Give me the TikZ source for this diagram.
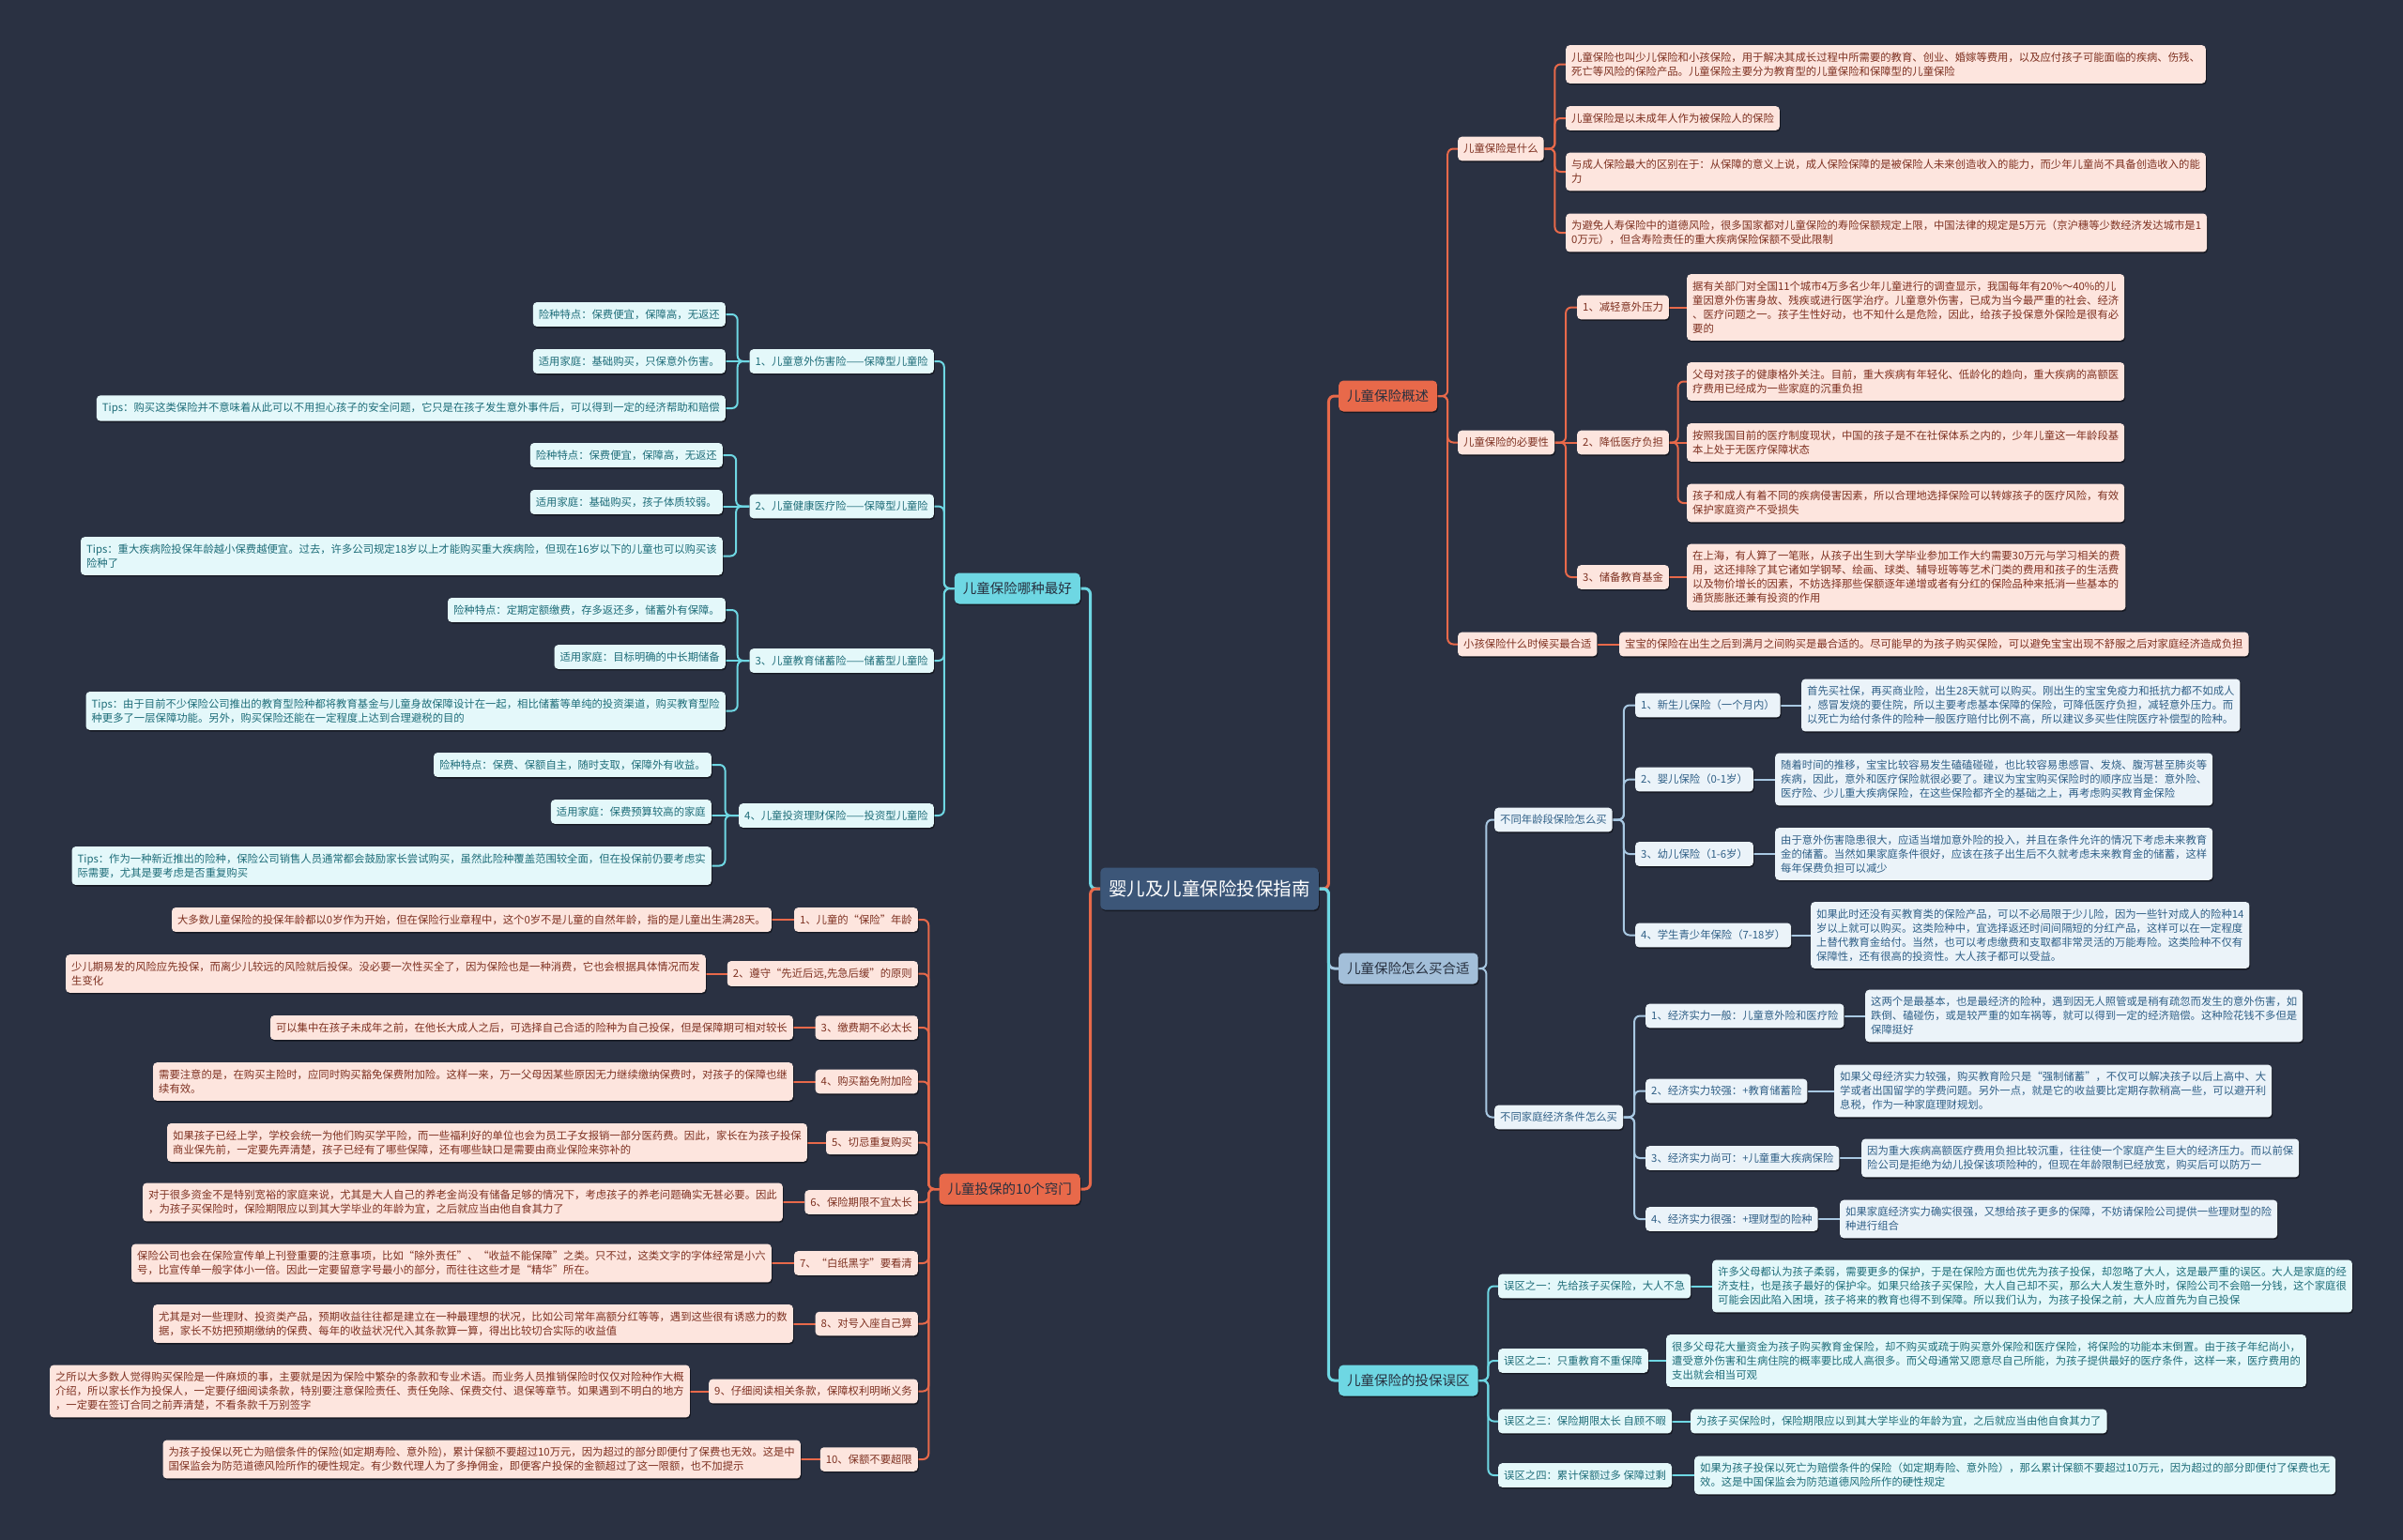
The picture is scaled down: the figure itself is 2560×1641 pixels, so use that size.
\documentclass[tikz,border=0pt]{standalone}
\usepackage{fontspec}
\setmainfont{Noto Sans CJK SC}
\usetikzlibrary{calc,shadows}
\definecolor{cBg}{HTML}{2A3142}
\definecolor{cBrO}{HTML}{E8694A}
\definecolor{cBrC}{HTML}{6ED7E3}
\definecolor{cBrB}{HTML}{A3BFD9}
\definecolor{cLnB}{HTML}{A8C8E2}
\definecolor{cRoot}{HTML}{3C5678}
\definecolor{cLeafO}{HTML}{FDE5DE}
\definecolor{cLeafC}{HTML}{E4F8FA}
\definecolor{cLeafB}{HTML}{EBF3F9}
\definecolor{cTxtO}{HTML}{7D3020}
\definecolor{cTxtC}{HTML}{1D6C78}
\definecolor{cTxtB}{HTML}{2F5F86}
\definecolor{cMainTxt}{HTML}{27303F}
\pgfdeclarelayer{bglayer}
\pgfsetlayers{bglayer,main}
\tikzset{
  shd/.style={drop shadow={shadow xshift=1pt, shadow yshift=-1.6pt, opacity=.45, fill=black}},
  boxbase/.style={shd, rounded corners=4pt, inner xsep=6pt, inner ysep=7.5pt, align=left,
    font=\fontsize{11.35}{15}\selectfont},
  leafO/.style={boxbase, fill=cLeafO, text=cTxtO},
  leafC/.style={boxbase, fill=cLeafC, text=cTxtC},
  leafB/.style={boxbase, fill=cLeafB, text=cTxtB},
  mainbox/.style={shd, rounded corners=5pt, inner xsep=9pt, inner ysep=0pt, minimum height=33pt,
    font=\fontsize{14.5}{16}\selectfont, text=cMainTxt},
  mainO/.style={mainbox, fill=cBrO},
  mainC/.style={mainbox, fill=cBrC},
  mainB/.style={mainbox, fill=cBrB},
  rootbox/.style={shd, rounded corners=5pt, inner xsep=9pt, inner ysep=0pt, minimum height=45pt,
    fill=cRoot, text=white, font=\fontsize{19.5}{22}\selectfont},
  edO/.style={draw=cBrO, line width=2pt, rounded corners=6pt},
  edC/.style={draw=cBrC, line width=2pt, rounded corners=6pt},
  edB/.style={draw=cLnB, line width=2pt, rounded corners=6pt},
  edRO/.style={edO, line width=3pt},
  edRC/.style={edC, line width=3pt},
  edRB/.style={edB, line width=3pt},
}
\newcommand\edR[3]{\draw[#1] (#2.east) -- ($(#2.east)!0.5!(#3.west |- #2.east)$) |- (#3.west);}
\newcommand\edL[3]{\draw[#1] (#2.west) -- ($(#2.west)!0.5!(#3.east |- #2.west)$) |- (#3.east);}
\newcommand\stR[3]{\draw[#1] (#2.east) -- (#2.east -| #3.west);}
\newcommand\stL[3]{\draw[#1] (#2.west) -- (#2.west -| #3.east);}
\begin{document}
\begin{tikzpicture}[x=1pt,y=-1pt]
\begin{pgfonlayer}{bglayer}
\fill[cBg] (0,0) rectangle (2560,1641);
\end{pgfonlayer}
\useasboundingbox (0,0) rectangle (2560,1641);

% root
\node[rootbox] (root) at (1288.5,947) {婴儿及儿童保险投保指南};

% ===== right: 概述 =====
\node[mainO, anchor=west] (ov) at (1426,422) {儿童保险概述};
\node[leafO, anchor=west] (ovA) at (1553,158.5) {儿童保险是什么};
\node[leafO, anchor=west] (a1) at (1668,68.5) {儿童保险也叫少儿保险和小孩保险，用于解决其成长过程中所需要的教育、创业、婚嫁等费用，以及应付孩子可能面临的疾病、伤残、\\死亡等风险的保险产品。儿童保险主要分为教育型的儿童保险和保障型的儿童保险};
\node[leafO, anchor=west] (a2) at (1668,126) {儿童保险是以未成年人作为被保险人的保险};
\node[leafO, anchor=west] (a3) at (1668,183) {与成人保险最大的区别在于：从保障的意义上说，成人保险保障的是被保险人未来创造收入的能力，而少年儿童尚不具备创造收入的能\\力};
\node[leafO, anchor=west] (a4) at (1668,248) {为避免人寿保险中的道德风险，很多国家都对儿童保险的寿险保额规定上限，中国法律的规定是5万元（京沪穗等少数经济发达城市是1\\0万元），但含寿险责任的重大疾病保险保额不受此限制};
\node[leafO, anchor=west] (ovB) at (1553,471.5) {儿童保险的必要性};
\node[leafO, anchor=west] (b1) at (1680,327.5) {1、减轻意外压力};
\node[leafO, anchor=west] (b1x) at (1797,327.5) {据有关部门对全国11个城市4万多名少年儿童进行的调查显示，我国每年有20\%～40\%的儿\\童因意外伤害身故、残疾或进行医学治疗。儿童意外伤害，已成为当今最严重的社会、经济\\、医疗问题之一。孩子生性好动，也不知什么是危险，因此，给孩子投保意外保险是很有必\\要的};
\node[leafO, anchor=west] (b2) at (1680,471.5) {2、降低医疗负担};
\node[leafO, anchor=west] (b2a) at (1797,406.5) {父母对孩子的健康格外关注。目前，重大疾病有年轻化、低龄化的趋向，重大疾病的高额医\\疗费用已经成为一些家庭的沉重负担};
\node[leafO, anchor=west] (b2b) at (1797,471.5) {按照我国目前的医疗制度现状，中国的孩子是不在社保体系之内的，少年儿童这一年龄段基\\本上处于无医疗保障状态};
\node[leafO, anchor=west] (b2c) at (1797,536) {孩子和成人有着不同的疾病侵害因素，所以合理地选择保险可以转嫁孩子的医疗风险，有效\\保护家庭资产不受损失};
\node[leafO, anchor=west] (b3) at (1680,615) {3、储备教育基金};
\node[leafO, anchor=west] (b3x) at (1797,615) {在上海，有人算了一笔账，从孩子出生到大学毕业参加工作大约需要30万元与学习相关的费\\用，这还排除了其它诸如学钢琴、绘画、球类、辅导班等等艺术门类的费用和孩子的生活费\\以及物价增长的因素，不妨选择那些保额逐年递增或者有分红的保险品种来抵消一些基本的\\通货膨胀还兼有投资的作用};
\node[leafO, anchor=west] (ovC) at (1553,686.5) {小孩保险什么时候买最合适};
\node[leafO, anchor=west] (ovCx) at (1725,686.5) {宝宝的保险在出生之后到满月之间购买是最合适的。尽可能早的为孩子购买保险，可以避免宝宝出现不舒服之后对家庭经济造成负担};

% ===== right: 怎么买合适 =====
\node[mainB, anchor=west] (buy) at (1426,1032) {儿童保险怎么买合适};
\node[leafB, anchor=west] (age) at (1592,873.5) {不同年龄段保险怎么买};
\node[leafB, anchor=west] (g1) at (1742,751.5) {1、新生儿保险（一个月内）};
\node[leafB, anchor=west] (g1x) at (1919,751.5) {首先买社保，再买商业险，出生28天就可以购买。刚出生的宝宝免疫力和抵抗力都不如成人\\，感冒发烧的要住院，所以主要考虑基本保障的保险，可降低医疗负担，减轻意外压力。而\\以死亡为给付条件的险种一般医疗赔付比例不高，所以建议多买些住院医疗补偿型的险种。};
\node[leafB, anchor=west] (g2) at (1742,830.5) {2、婴儿保险（0-1岁）};
\node[leafB, anchor=west] (g2x) at (1891,830.5) {随着时间的推移，宝宝比较容易发生磕磕碰碰，也比较容易患感冒、发烧、腹泻甚至肺炎等\\疾病，因此，意外和医疗保险就很必要了。建议为宝宝购买保险时的顺序应当是：意外险、\\医疗险、少儿重大疾病保险，在这些保险都齐全的基础之上，再考虑购买教育金保险};
\node[leafB, anchor=west] (g3) at (1742,910) {3、幼儿保险（1-6岁）};
\node[leafB, anchor=west] (g3x) at (1891,910) {由于意外伤害隐患很大，应适当增加意外险的投入，并且在条件允许的情况下考虑未来教育\\金的储蓄。当然如果家庭条件很好，应该在孩子出生后不久就考虑未来教育金的储蓄，这样\\每年保费负担可以减少};
\node[leafB, anchor=west] (g4) at (1742,996.5) {4、学生青少年保险（7-18岁）};
\node[leafB, anchor=west] (g4x) at (1929,996.5) {如果此时还没有买教育类的保险产品，可以不必局限于少儿险，因为一些针对成人的险种14\\岁以上就可以购买。这类险种中，宜选择返还时间间隔短的分红产品，这样可以在一定程度\\上替代教育金给付。当然，也可以考虑缴费和支取都非常灵活的万能寿险。这类险种不仅有\\保障性，还有很高的投资性。大人孩子都可以受益。};
\node[leafB, anchor=west] (eco) at (1592,1190.5) {不同家庭经济条件怎么买};
\node[leafB, anchor=west] (e1) at (1753,1082.5) {1、经济实力一般：儿童意外险和医疗险};
\node[leafB, anchor=west] (e1x) at (1987,1082.5) {这两个是最基本，也是最经济的险种，遇到因无人照管或是稍有疏忽而发生的意外伤害，如\\跌倒、磕碰伤，或是较严重的如车祸等，就可以得到一定的经济赔偿。这种险花钱不多但是\\保障挺好};
\node[leafB, anchor=west] (e2) at (1753,1162.5) {2、经济实力较强：+教育储蓄险};
\node[leafB, anchor=west] (e2x) at (1954,1162.5) {如果父母经济实力较强，购买教育险只是“强制储蓄”，不仅可以解决孩子以后上高中、大\\学或者出国留学的学费问题。另外一点，就是它的收益要比定期存款稍高一些，可以避开利\\息税，作为一种家庭理财规划。};
\node[leafB, anchor=west] (e3) at (1753,1234) {3、经济实力尚可：+儿童重大疾病保险};
\node[leafB, anchor=west] (e3x) at (1983,1234) {因为重大疾病高额医疗费用负担比较沉重，往往使一个家庭产生巨大的经济压力。而以前保\\险公司是拒绝为幼儿投保该项险种的，但现在年龄限制已经放宽，购买后可以防万一};
\node[leafB, anchor=west] (e4) at (1753,1299) {4、经济实力很强：+理财型的险种};
\node[leafB, anchor=west] (e4x) at (1960,1299) {如果家庭经济实力确实很强，又想给孩子更多的保障，不妨请保险公司提供一些理财型的险\\种进行组合};

% ===== right: 误区 =====
\node[mainC, anchor=west] (mis) at (1426,1471) {儿童保险的投保误区};
\node[leafC, anchor=west] (m1) at (1596,1370.5) {误区之一：先给孩子买保险，大人不急};
\node[leafC, anchor=west] (m1x) at (1824,1370.5) {许多父母都认为孩子柔弱，需要更多的保护，于是在保险方面也优先为孩子投保，却忽略了大人，这是最严重的误区。大人是家庭的经\\济支柱，也是孩子最好的保护伞。如果只给孩子买保险，大人自己却不买，那么大人发生意外时，保险公司不会赔一分钱，这个家庭很\\可能会因此陷入困境，孩子将来的教育也得不到保障。所以我们认为，为孩子投保之前，大人应首先为自己投保};
\node[leafC, anchor=west] (m2) at (1596,1450) {误区之二：只重教育不重保障};
\node[leafC, anchor=west] (m2x) at (1775,1450) {很多父母花大量资金为孩子购买教育金保险，却不购买或疏于购买意外保险和医疗保险，将保险的功能本末倒置。由于孩子年纪尚小，\\遭受意外伤害和生病住院的概率要比成人高很多。而父母通常又愿意尽自己所能，为孩子提供最好的医疗条件，这样一来，医疗费用的\\支出就会相当可观};
\node[leafC, anchor=west] (m3) at (1596,1514.5) {误区之三：保险期限太长 自顾不暇};
\node[leafC, anchor=west] (m3x) at (1801,1514.5) {为孩子买保险时，保险期限应以到其大学毕业的年龄为宜，之后就应当由他自食其力了};
\node[leafC, anchor=west] (m4) at (1596,1572) {误区之四：累计保额过多 保障过剩};
\node[leafC, anchor=west] (m4x) at (1805,1572) {如果为孩子投保以死亡为赔偿条件的保险（如定期寿险、意外险），那么累计保额不要超过10万元，因为超过的部分即便付了保费也无\\效。这是中国保监会为防范道德风险所作的硬性规定};

% ===== left: 哪种最好 =====
\node[mainC, anchor=east] (best) at (1151,627) {儿童保险哪种最好};
\node[leafC, anchor=east] (k1) at (995,385) {1、儿童意外伤害险——保障型儿童险};
\node[leafC, anchor=east] (k1a) at (773,335) {险种特点：保费便宜，保障高，无返还};
\node[leafC, anchor=east] (k1b) at (773,385) {适用家庭：基础购买，只保意外伤害。};
\node[leafC, anchor=east] (k1c) at (773,435) {Tips：购买这类保险并不意味着从此可以不用担心孩子的安全问题，它只是在孩子发生意外事件后，可以得到一定的经济帮助和赔偿};
\node[leafC, anchor=east] (k2) at (995,539.5) {2、儿童健康医疗险——保障型儿童险};
\node[leafC, anchor=east] (k2a) at (770,485) {险种特点：保费便宜，保障高，无返还};
\node[leafC, anchor=east] (k2b) at (770,535) {适用家庭：基础购买，孩子体质较弱。};
\node[leafC, anchor=east] (k2c) at (770,592.5) {Tips：重大疾病险投保年龄越小保费越便宜。过去，许多公司规定18岁以上才能购买重大疾病险，但现在16岁以下的儿童也可以购买该\\险种了};
\node[leafC, anchor=east] (k3) at (995,704) {3、儿童教育储蓄险——储蓄型儿童险};
\node[leafC, anchor=east] (k3a) at (773,650) {险种特点：定期定额缴费，存多返还多，储蓄外有保障。};
\node[leafC, anchor=east] (k3b) at (773,700) {适用家庭：目标明确的中长期储备};
\node[leafC, anchor=east] (k3c) at (773,757.5) {Tips：由于目前不少保险公司推出的教育型险种都将教育基金与儿童身故保障设计在一起，相比储蓄等单纯的投资渠道，购买教育型险\\种更多了一层保障功能。另外，购买保险还能在一定程度上达到合理避税的目的};
\node[leafC, anchor=east] (k4) at (995,869) {4、儿童投资理财保险——投资型儿童险};
\node[leafC, anchor=east] (k4a) at (758,815) {险种特点：保费、保额自主，随时支取，保障外有收益。};
\node[leafC, anchor=east] (k4b) at (758,865) {适用家庭：保费预算较高的家庭};
\node[leafC, anchor=east] (k4c) at (758,922.5) {Tips：作为一种新近推出的险种，保险公司销售人员通常都会鼓励家长尝试购买，虽然此险种覆盖范围较全面，但在投保前仍要考虑实\\际需要，尤其是要考虑是否重复购买};

% ===== left: 10个窍门 =====
\node[mainO, anchor=east] (tips) at (1151,1267) {儿童投保的10个窍门};
\node[leafO, anchor=east] (t1) at (978,980) {1、儿童的“保险”年龄};
\node[leafO, anchor=east] (t1x) at (822,980) {大多数儿童保险的投保年龄都以0岁作为开始，但在保险行业章程中，这个0岁不是儿童的自然年龄，指的是儿童出生满28天。};
\node[leafO, anchor=east] (t2) at (978,1037.5) {2、遵守“先近后远,先急后缓”的原则};
\node[leafO, anchor=east] (t2x) at (752,1037.5) {少儿期易发的风险应先投保，而离少儿较远的风险就后投保。没必要一次性买全了，因为保险也是一种消费，它也会根据具体情况而发\\生变化};
\node[leafO, anchor=east] (t3) at (978,1095) {3、缴费期不必太长};
\node[leafO, anchor=east] (t3x) at (845,1095) {可以集中在孩子未成年之前，在他长大成人之后，可选择自己合适的险种为自己投保，但是保障期可相对较长};
\node[leafO, anchor=east] (t4) at (978,1152.5) {4、购买豁免附加险};
\node[leafO, anchor=east] (t4x) at (845,1152.5) {需要注意的是，在购买主险时，应同时购买豁免保费附加险。这样一来，万一父母因某些原因无力继续缴纳保费时，对孩子的保障也继\\续有效。};
\node[leafO, anchor=east] (t5) at (978,1217.5) {5、切忌重复购买};
\node[leafO, anchor=east] (t5x) at (860,1217.5) {如果孩子已经上学，学校会统一为他们购买学平险，而一些福利好的单位也会为员工子女报销一部分医药费。因此，家长在为孩子投保\\商业保先前，一定要先弄清楚，孩子已经有了哪些保障，还有哪些缺口是需要由商业保险来弥补的};
\node[leafO, anchor=east] (t6) at (978,1281) {6、保险期限不宜太长};
\node[leafO, anchor=east] (t6x) at (834,1281) {对于很多资金不是特别宽裕的家庭来说，尤其是大人自己的养老金尚没有储备足够的情况下，考虑孩子的养老问题确实无甚必要。因此\\，为孩子买保险时，保险期限应以到其大学毕业的年龄为宜，之后就应当由他自食其力了};
\node[leafO, anchor=east] (t7) at (978,1346) {7、“白纸黑字”要看清};
\node[leafO, anchor=east] (t7x) at (822,1346) {保险公司也会在保险宣传单上刊登重要的注意事项，比如“除外责任”、“收益不能保障”之类。只不过，这类文字的字体经常是小六\\号，比宣传单一般字体小一倍。因此一定要留意字号最小的部分，而往往这些才是“精华”所在。};
\node[leafO, anchor=east] (t8) at (978,1410.5) {8、对号入座自己算};
\node[leafO, anchor=east] (t8x) at (845,1410.5) {尤其是对一些理财、投资类产品，预期收益往往都是建立在一种最理想的状况，比如公司常年高额分红等等，遇到这些很有诱惑力的数\\据，家长不妨把预期缴纳的保费、每年的收益状况代入其条款算一算，得出比较切合实际的收益值};
\node[leafO, anchor=east] (t9) at (978,1482.5) {9、仔细阅读相关条款，保障权利明晰义务};
\node[leafO, anchor=east] (t9x) at (735,1482.5) {之所以大多数人觉得购买保险是一件麻烦的事，主要就是因为保险中繁杂的条款和专业术语。而业务人员推销保险时仅仅对险种作大概\\介绍，所以家长作为投保人，一定要仔细阅读条款，特别要注意保险责任、责任免除、保费交付、退保等章节。如果遇到不明白的地方\\，一定要在签订合同之前弄清楚，不看条款千万别签字};
\node[leafO, anchor=east] (t10) at (978,1555) {10、保额不要超限};
\node[leafO, anchor=east] (t10x) at (853,1555) {为孩子投保以死亡为赔偿条件的保险(如定期寿险、意外险)，累计保额不要超过10万元，因为超过的部分即便付了保费也无效。这是中\\国保监会为防范道德风险所作的硬性规定。有少数代理人为了多挣佣金，即便客户投保的金额超过了这一限额，也不加提示};

% ===== connectors =====
\begin{pgfonlayer}{bglayer}
\edR{edRO}{root}{ov}
\edR{edRB}{root}{buy}
\edR{edRC}{root}{mis}
\edL{edRC}{root}{best}
\edL{edRO}{root}{tips}
% 概述
\edR{edO}{ov}{ovA}
\edR{edO}{ov}{ovB}
\edR{edO}{ov}{ovC}
\edR{edO}{ovA}{a1}
\edR{edO}{ovA}{a2}
\edR{edO}{ovA}{a3}
\edR{edO}{ovA}{a4}
\edR{edO}{ovB}{b1}
\stR{edO}{ovB}{b2}
\edR{edO}{ovB}{b3}
\stR{edO}{b1}{b1x}
\edR{edO}{b2}{b2a}
\stR{edO}{b2}{b2b}
\edR{edO}{b2}{b2c}
\stR{edO}{b3}{b3x}
\stR{edO}{ovC}{ovCx}
% 怎么买
\edR{edB}{buy}{age}
\edR{edB}{buy}{eco}
\edR{edB}{age}{g1}
\edR{edB}{age}{g2}
\edR{edB}{age}{g3}
\edR{edB}{age}{g4}
\stR{edB}{g1}{g1x}
\stR{edB}{g2}{g2x}
\stR{edB}{g3}{g3x}
\stR{edB}{g4}{g4x}
\edR{edB}{eco}{e1}
\edR{edB}{eco}{e2}
\edR{edB}{eco}{e3}
\edR{edB}{eco}{e4}
\stR{edB}{e1}{e1x}
\stR{edB}{e2}{e2x}
\stR{edB}{e3}{e3x}
\stR{edB}{e4}{e4x}
% 误区
\edR{edC}{mis}{m1}
\edR{edC}{mis}{m2}
\edR{edC}{mis}{m3}
\edR{edC}{mis}{m4}
\stR{edC}{m1}{m1x}
\stR{edC}{m2}{m2x}
\stR{edC}{m3}{m3x}
\stR{edC}{m4}{m4x}
% 哪种最好
\edL{edC}{best}{k1}
\edL{edC}{best}{k2}
\edL{edC}{best}{k3}
\edL{edC}{best}{k4}
\edL{edC}{k1}{k1a}
\stL{edC}{k1}{k1b}
\edL{edC}{k1}{k1c}
\edL{edC}{k2}{k2a}
\stL{edC}{k2}{k2b}
\edL{edC}{k2}{k2c}
\edL{edC}{k3}{k3a}
\stL{edC}{k3}{k3b}
\edL{edC}{k3}{k3c}
\edL{edC}{k4}{k4a}
\stL{edC}{k4}{k4b}
\edL{edC}{k4}{k4c}
% 10个窍门
\edL{edO}{tips}{t1}
\edL{edO}{tips}{t2}
\edL{edO}{tips}{t3}
\edL{edO}{tips}{t4}
\edL{edO}{tips}{t5}
\edL{edO}{tips}{t6}
\edL{edO}{tips}{t7}
\edL{edO}{tips}{t8}
\edL{edO}{tips}{t9}
\edL{edO}{tips}{t10}
\stL{edO}{t1}{t1x}
\stL{edO}{t2}{t2x}
\stL{edO}{t3}{t3x}
\stL{edO}{t4}{t4x}
\stL{edO}{t5}{t5x}
\stL{edO}{t6}{t6x}
\stL{edO}{t7}{t7x}
\stL{edO}{t8}{t8x}
\stL{edO}{t9}{t9x}
\stL{edO}{t10}{t10x}
\end{pgfonlayer}
\end{tikzpicture}
\end{document}
